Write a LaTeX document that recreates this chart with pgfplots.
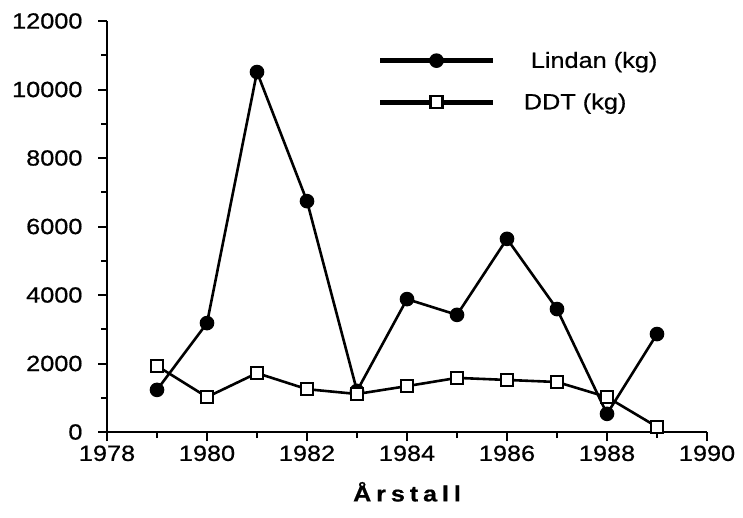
\documentclass[border=0pt]{standalone}
\usepackage{fontspec}
\setmainfont[FakeStretch=1.15, FakeBold=0.6]{Liberation Sans}
\usepackage{pgfplots}
\pgfplotsset{compat=1.18}
\begin{document}
\begin{tikzpicture}
\begin{axis}[
  scale only axis,
  width=600pt, height=411pt,
  xmin=1978, xmax=1990, ymin=0, ymax=12000,
  axis x line*=bottom, axis y line*=left,
  axis line style={-, line width=2.4pt},
  xtick={1978,1980,...,1990},
  minor xtick={1979,1981,...,1989},
  ytick={0,2000,...,12000},
  minor ytick={1000,3000,...,11000},
  tick align=outside,
  major tick length=9pt, minor tick length=6pt,
  every tick/.style={black, line width=2pt},
  /pgf/number format/assume math mode=true,
  /pgf/number format/1000 sep={},
  scaled y ticks=false,
  tick label style={font=\fontsize{22}{26}\selectfont},
  yticklabel style={xshift=-12pt},
  xticklabel style={yshift=-1pt},
  xlabel={\fontsize{22}{26}\selectfont\bfseries\addfontfeatures{LetterSpace=22}Årstall},
  xlabel style={yshift=-14pt},
  legend style={draw=none, fill=none, at={(0.45,0.935)}, anchor=north west,
    font=\fontsize{22}{26}\selectfont, row sep=20pt,
    legend cell align=left},
  legend image code/.code={%
    \fill[black] (0pt,-1.15pt) rectangle (110pt,1.15pt);
    \path[#1] plot coordinates {(55pt,0pt)};},
]
\addplot[black, line width=2.6pt, mark=*, mark size=6pt, mark options={fill=black}]
coordinates {
(1979,1230) (1980,3180) (1981,10510) (1982,6740) (1983,1200) (1984,3880)
(1985,3420) (1986,5640) (1987,3590) (1988,530) (1989,2860)
};
\addlegendentry{\hspace{36pt}Lindan (kg)}
\addplot[black, line width=2.6pt, mark=square*, mark size=6pt, mark options={fill=white, line width=2.2pt}]
coordinates {
(1979,1930) (1980,1020) (1981,1720) (1982,1250) (1983,1110) (1984,1340)
(1985,1580) (1986,1520) (1987,1460) (1988,1020) (1989,150)
};
\addlegendentry{\hspace{29pt}DDT (kg)}
\end{axis}
\path (current axis.south west) ++(-107pt,-85pt) coordinate (bbA);
\path (current axis.north east) ++(36pt,21pt) coordinate (bbB);
\pgfresetboundingbox
\path (bbA) rectangle (bbB);
\end{tikzpicture}
\end{document}
